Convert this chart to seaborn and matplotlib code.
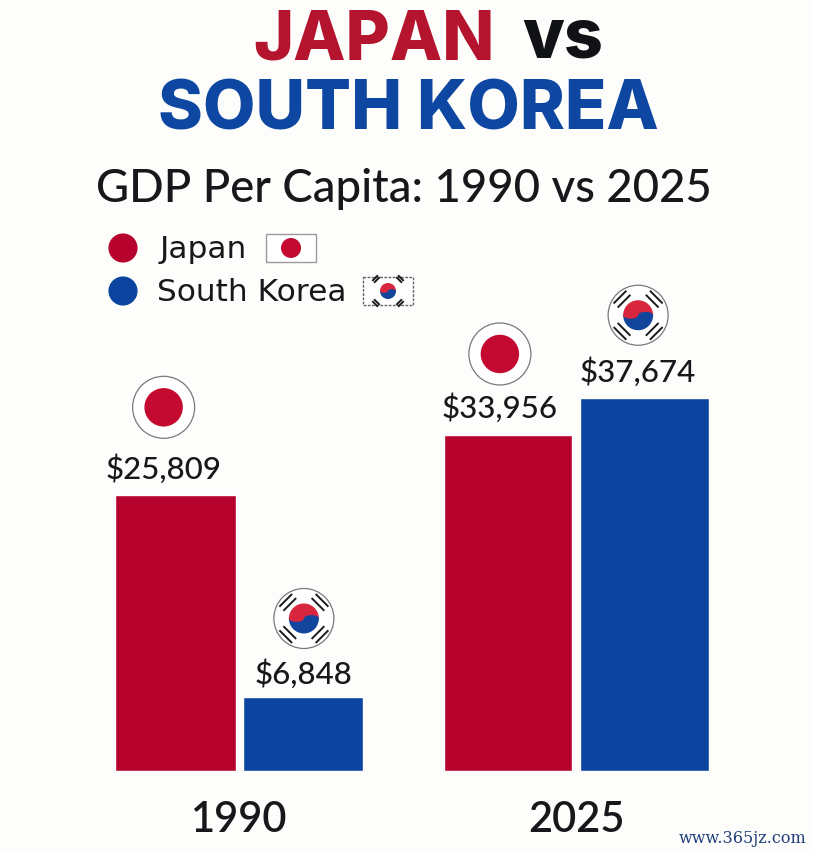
import matplotlib
matplotlib.use('Agg')
import matplotlib.pyplot as plt
from matplotlib.patches import Circle, Ellipse, Wedge, Rectangle
import pandas as pd
import seaborn as sns

years = ['1990', '2025']
countries = ['Japan', 'South Korea']
japan_gdp = [25809, 33956]
korea_gdp = [6848, 37674]

W, H = 814, 852
BG = '#fdfdfb'
RED = '#b7022d'
BLUE = '#0b459f'
TITLE_RED = '#b5142f'
TITLE_BLUE = '#0e47a1'
INK = '#16181c'

sns.set_theme(style='white')
plt.rcParams['font.family'] = ['Lato', 'DejaVu Sans']

df = pd.DataFrame({
    'year': years * 2,
    'country': [countries[0]] * 2 + [countries[1]] * 2,
    'gdp': japan_gdp + korea_gdp,
})

fig = plt.figure(figsize=(W / 100, H / 100), dpi=100, facecolor=BG)

# overlay in pixel coords, used for titles, legend and flags
over = fig.add_axes([0, 0, 1, 1], zorder=5)
over.set_xlim(0, W)
over.set_ylim(H, 0)
over.axis('off')
over.patch.set_alpha(0)


def make_ax(left, right, top_val, top_px=40, base_px=770.5):
    ax = fig.add_axes([left / W, 1 - base_px / H, (right - left) / W, (base_px - top_px) / H])
    ax.set_facecolor('none')
    ax.set_ylim(0, top_val)
    return ax


def japan_flag(cx, cy, r):
    over.add_patch(Circle((cx, cy), r, fc='#c40a30', ec='none', zorder=3))


def korea_flag(cx, cy, r):
    over.add_patch(Wedge((cx, cy), r, 180, 360, fc='#d7263d', ec='none', zorder=3))
    over.add_patch(Wedge((cx, cy), r, 0, 180, fc='#12459c', ec='none', zorder=3))
    over.add_patch(Ellipse((cx - r / 2, cy), r, r * 0.45, fc='#d7263d', ec='none', zorder=4))
    over.add_patch(Ellipse((cx + r / 2, cy), r, r * 0.45, fc='#12459c', ec='none', zorder=4))


def trigrams(cx, cy, dist, size, lw, n=2):
    for sx, sy in [(-1, -1), (1, -1), (-1, 1), (1, 1)]:
        for k in range(n):
            d = dist + (k - (n - 1) / 2) * size * 0.32
            mx = cx + sx * d * 0.707
            my = cy + sy * d * 0.707
            dx, dy = sx * size * 0.5 * 0.707, -sy * size * 0.5 * 0.707
            over.plot([mx - dx, mx + dx], [my - dy, my + dy], color='#1b1b1b', lw=lw,
                      solid_capstyle='butt', zorder=3)


def badge(kind, cx, cy, r):
    over.add_patch(Circle((cx, cy), r, fc='white', ec='#77797c', lw=0.9, zorder=2))
    if kind == 0:
        japan_flag(cx, cy, r * 0.62)
    else:
        korea_flag(cx, cy, r * 0.5)
        trigrams(cx, cy, r * 0.76, r * 0.6, 1.4)


# each year has its own scale and bar width, as in the picture
panels = [
    (years[0], 115.5, 363, 730 / (275 / 25809), [(-12, 17, 88, 31), (1, 14, 79, 30)]),
    (years[1], 443.5, 708.5, 730 / (372 / 37674), [(-8, 17, 81, 31), (-6, 16, 83, 30)]),
]

for year, left, right, top_val, offs in panels:
    ax = make_ax(left, right, top_val)
    sns.barplot(data=df[df['year'] == year], x='year', y='gdp', hue='country',
                hue_order=countries, palette=[RED, BLUE], gap=0.055, saturation=1,
                legend=False, ax=ax)
    bars = [p for p in ax.patches if p.get_height() > 0]
    ax.set_xlim(min(p.get_x() for p in bars), max(p.get_x() + p.get_width() for p in bars))
    ax.set_ylim(0, top_val)
    sns.despine(ax=ax, left=True, bottom=True)
    ax.set_xlabel('')
    ax.set_ylabel('')
    ax.set_yticks([])
    ax.tick_params(axis='x', length=0, pad=22)
    for lab in ax.get_xticklabels():
        lab.set_fontsize(30)
        lab.set_fontweight('semibold')
        lab.set_color(INK)

    fig.canvas.draw()
    for k, (bar, (dx, lab_up, flag_up, r)) in enumerate(zip(bars, offs)):
        px = ax.transData.transform((bar.get_x() + bar.get_width() / 2, bar.get_height()))
        cx, top = px[0], H - px[1]
        over.text(cx + dx, top - lab_up, '${:,}'.format(int(bar.get_height())), fontsize=22.5,
                  color=INK, ha='center', va='baseline', fontweight='medium')
        badge(k, cx + dx, top - flag_up, r)

# titles
over.text(253, 60, 'JAPAN', fontsize=49, family='Inter', fontweight=800, color=TITLE_RED, va='baseline')
over.text(522, 58, 'vs', fontsize=49, family='Inter', fontweight=800, color='#101216', va='baseline')
over.text(408, 130, 'SOUTH KOREA', fontsize=49, family='Inter', fontweight=800, color=TITLE_BLUE,
          va='baseline', ha='center')
over.text(404, 202, 'GDP Per Capita: 1990 vs 2025', fontsize=32.8, fontweight='medium',
          color=INK, va='baseline', ha='center')

# legend
over.scatter([123, 123], [248, 291], s=440, c=[RED, BLUE], linewidths=0, zorder=3)
over.text(160, 258, countries[0], fontsize=22.5, family='DejaVu Sans', color=INK, va='baseline')
over.text(157, 301, countries[1], fontsize=22.5, family='DejaVu Sans', color=INK, va='baseline')
over.add_patch(Rectangle((266, 234), 50, 28, fc='white', ec='#9a9a9a', lw=1, zorder=2))
japan_flag(291, 248, 10)
over.add_patch(Rectangle((363, 277), 50, 28, fc='white', ec='#666666', lw=1, ls=(0, (2, 1)), zorder=2))
korea_flag(388, 291, 8)
trigrams(388, 291, 17, 8, 1.4)

over.text(806, 843, 'www.365jz.com', fontsize=11.5, family='DejaVu Serif', color='#1e3f7a',
          ha='right', va='baseline')

fig.savefig('out.png', dpi=100, facecolor=BG)
